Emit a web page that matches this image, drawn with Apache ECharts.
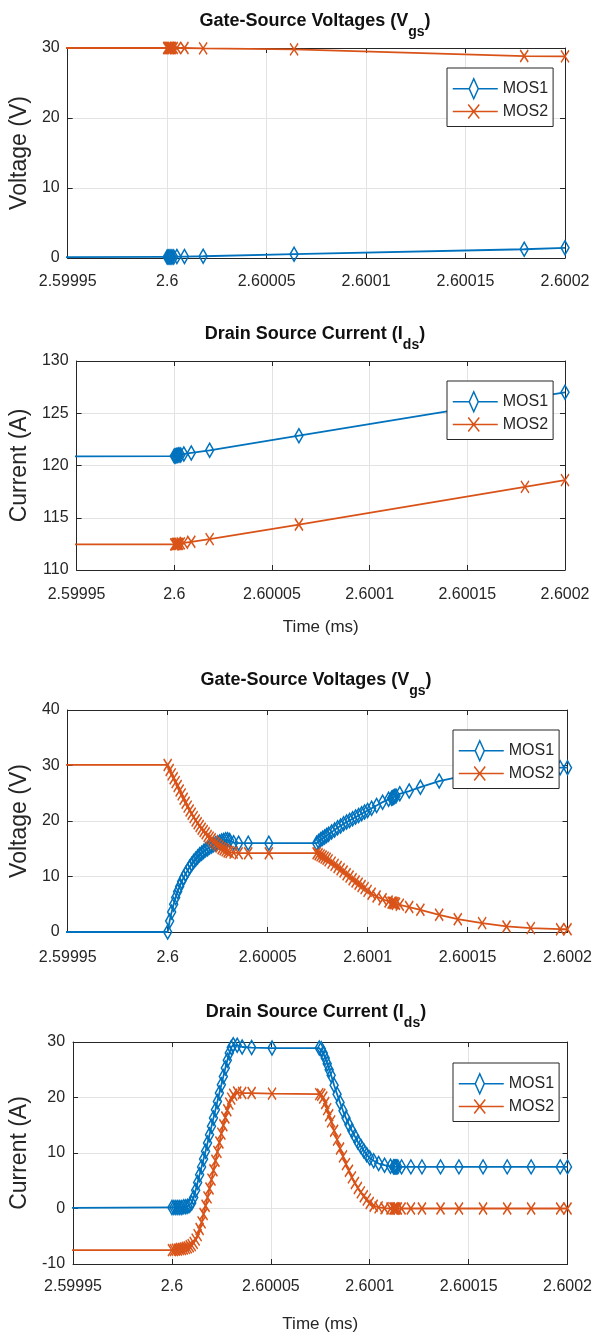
<!DOCTYPE html>
<html>
<head>
<meta charset="utf-8">
<script src="https://cdn.jsdelivr.net/npm/echarts@6/dist/echarts.min.js"></script>
<style>
  html, body { margin: 0; padding: 0; background: #fff; }
  #chart { width: 595px; height: 1334px; }
</style>
</head>
<body>
<div id="chart"></div>
<script>
// Switching transient of two MOSFETs. Sample times are given in ns after t = 2.6 ms.
const T0_MS = 2.6;

// Case A: small-signal step (upper two panels)
const timeA_ns   = [-100, 0, 0.5, 1, 1.5, 2, 2.5, 3.3, 4.9, 8.7, 18.1, 63.8, 179.5, 200];
const vgsA_mos1  = [0.1, 0.15, 0.15, 0.15, 0.15, 0.15, 0.15, 0.15, 0.2, 0.2, 0.25, 0.55, 1.25, 1.45];
const vgsA_mos2  = [30, 30, 30, 30, 30, 30, 30, 30, 30, 30, 29.95, 29.8, 28.85, 28.8];
const idsA_mos1  = [120.85, 120.9, 120.9, 120.95, 120.95, 121.0, 121.0, 121.0, 121.1, 121.2, 121.45, 122.85, 126.4, 127.0];
const idsA_mos2  = [112.45, 112.45, 112.45, 112.5, 112.5, 112.5, 112.5, 112.55, 112.6, 112.7, 112.95, 114.35, 117.95, 118.6];

// Case B: full commutation (lower two panels)
const timeB_ns = [-100,
  0, 1, 2, 3, 4, 5, 6, 7, 8, 9, 10, 11, 12, 13, 14, 15, 16, 17, 18, 19,
  20, 21, 22, 23, 24, 25, 26, 27, 28, 29, 30, 31,
  33, 35.5, 40.3, 50.6, 74.5,
  75.5, 76.5, 77.5, 78.5, 79.5, 80.5,
  82, 83.5, 85, 86.5, 88, 89.5, 91, 92.5, 94, 95.5, 97, 98.5, 100,
  102, 104.5, 107.5, 110.5,
  112, 112.5, 113, 113.5,
  114.2, 116.1, 120.8, 126.4, 135.8, 145.1, 157.3, 169.5, 181.6, 196.3, 200];
const vgsB_mos1 = [0,
  0, 2.0, 3.6, 5.0, 6.2, 7.3, 8.2, 9.1, 9.8, 10.5, 11.1, 11.7, 12.2, 12.7, 13.1, 13.5, 13.9, 14.2, 14.5, 14.8,
  15.0, 15.3, 15.5, 15.7, 15.9, 16.1, 16.2, 16.4, 16.5, 16.6, 16.6, 16.5,
  16.1, 16.0, 16.0, 16.0, 16.0,
  16.3, 16.6, 16.9, 17.1, 17.4, 17.6,
  18.0, 18.4, 18.8, 19.1, 19.5, 19.8, 20.1, 20.4, 20.7, 21.0, 21.3, 21.6, 21.9,
  22.3, 22.8, 23.4, 23.9,
  24.1, 24.2, 24.3, 24.4,
  24.5, 24.9, 25.4, 26.1, 27.2, 27.9, 28.6, 29.0, 29.3, 29.6, 29.6];
const vgsB_mos2 = [30.1,
  30.1, 29.2, 28.4, 27.7, 27.0, 26.3, 25.5, 24.8, 24.0, 23.3, 22.6, 21.9, 21.3, 20.7, 20.1, 19.6, 19.1, 18.6, 18.2, 17.8,
  17.3, 17.0, 16.7, 16.3, 16.0, 15.7, 15.4, 15.1, 14.9, 14.7, 14.5, 14.4,
  14.3, 14.2, 14.2, 14.2, 14.2,
  14.0, 13.8, 13.6, 13.4, 13.2, 12.9,
  12.5, 12.1, 11.7, 11.3, 10.9, 10.4, 10.0, 9.5, 9.1, 8.7, 8.3, 7.9, 7.4,
  6.9, 6.4, 5.9, 5.5,
  5.3, 5.3, 5.2, 5.2,
  5.1, 4.9, 4.5, 4.0, 3.1, 2.3, 1.6, 1.0, 0.7, 0.5, 0.5];
const idsB_mos1 = [0,
  0.2, 0.2, 0.2, 0.2, 0.2, 0.2, 0.3, 0.3, 0.4, 0.6, 1.0, 2.0, 3.3, 4.7, 6.1, 7.5, 8.9, 10.3, 11.8, 13.3,
  14.8, 16.3, 17.8, 19.3, 20.8, 22.3, 23.8, 25.3, 26.7, 28.0, 29.0, 29.5,
  29.4, 29.1, 29.0, 28.9, 28.9,
  28.8, 28.0, 27.1, 26.1, 25.0, 24.0,
  22.2, 20.6, 19.1, 17.6, 16.3, 15.1, 14.0, 13.0, 12.0, 11.2, 10.4, 9.7, 9.1,
  8.6, 8.1, 7.8, 7.6,
  7.5, 7.5, 7.5, 7.5,
  7.5, 7.5, 7.5, 7.5, 7.5, 7.5, 7.5, 7.5, 7.5, 7.5, 7.5];
const idsB_mos2 = [-7.5,
  -7.5, -7.5, -7.4, -7.4, -7.3, -7.3, -7.2, -7.1, -7.0, -6.8, -6.6, -6.2, -5.6, -4.8, -3.7, -2.5, -1.0, 0.5, 2.0, 3.6,
  5.2, 6.9, 8.6, 10.2, 11.9, 13.5, 15.0, 16.4, 17.7, 18.9, 19.8, 20.5,
  20.9, 20.8, 20.8, 20.7, 20.6,
  20.5, 20.0, 19.0, 17.9, 16.8, 15.7,
  14.0, 12.4, 10.8, 9.4, 8.0, 6.8, 5.6, 4.6, 3.7, 2.9, 2.2, 1.6, 1.0,
  0.5, 0.2, 0.05, 0,
  0, 0, 0, 0,
  0, 0, 0, 0, 0, 0, 0, 0, 0, 0, 0];

// Axis ticks
const xTicks     = [2.59995, 2.6, 2.60005, 2.6001, 2.60015, 2.6002];
const yTicksVgsA = [0, 10, 20, 30];
const yTicksIdsA = [110, 115, 120, 125, 130];
const yTicksVgsB = [0, 10, 20, 30, 40];
const yTicksIdsB = [-10, 0, 10, 20, 30];

const seriesNames = ['MOS1', 'MOS2'];
const titleVgs = ['Gate-Source Voltages (V', 'gs', ')'];
const titleIds = ['Drain Source Current (I', 'ds', ')'];
const yNameVgs = 'Voltage (V)';
const yNameIds = 'Current (A)';
const xName = 'Time (ms)';

// ---- styling ----
const SANS = '"Liberation Sans", Arial, Helvetica, sans-serif';
const INK = '#262626';
const GRID_LINE = '#e3e3e3';
const COLORS = ['#0072BD', '#D95319'];
const SYMBOLS = ['diamond', 'path://M0,0L10,10M10,0L0,10'];
const SYMBOL_SIZES = [[8, 14], [8, 12]];
// legend glyphs: line with the series marker drawn on it
const LEGEND_ICONS = [
  'path://M0,11H16.5M16.5,11L21,1L25.5,11L21,21ZM25.5,11H45',
  'path://M0,11H45M15.5,4L26.5,18M26.5,4L15.5,18'
];

const panels = [
  { grid: { left: 64, top: 48, width: 501, height: 210 }, title: titleVgs, titleX: 315, titleY: 3,
    yName: yNameVgs, yNameGap: 17, yTicks: yTicksVgsA, showX: false, xLabelMargin: 16,
    legend: { left: 447, top: 68 }, time: timeA_ns, values: [vgsA_mos1, vgsA_mos2] },
  { grid: { left: 64, top: 361, width: 501, height: 209 }, title: titleIds, titleX: 315, titleY: 316,
    yName: yNameIds, yNameGap: 24, yTicks: yTicksIdsA, showX: true, xNameGap: 49, xLabelMargin: 17,
    legend: { left: 447, top: 381 }, time: timeA_ns, values: [idsA_mos1, idsA_mos2] },
  { grid: { left: 62, top: 710, width: 509, height: 222 }, title: titleVgs, titleX: 316, titleY: 662,
    yName: yNameVgs, yNameGap: 14, yTicks: yTicksVgsB, showX: false, xLabelMargin: 18,
    legend: { left: 453, top: 730 }, time: timeB_ns, values: [vgsB_mos1, vgsB_mos2] },
  { grid: { left: 62, top: 1042, width: 509, height: 222 }, title: titleIds, titleX: 316, titleY: 994,
    yName: yNameIds, yNameGap: 21, yTicks: yTicksIdsB, showX: true, xNameGap: 52, xLabelMargin: 15,
    legend: { left: 453, top: 1063 }, time: timeB_ns, values: [idsB_mos1, idsB_mos2] }
];

const xMin = xTicks[0];
const xMax = xTicks[xTicks.length - 1];
const xStep = +(xTicks[1] - xTicks[0]).toFixed(8);
const fmtX = v => String(+v.toFixed(5));

function toPoints(timeNs, vals) {
  return timeNs.map((t, i) => [T0_MS + t * 1e-6, vals[i]]);
}

function axisBase(extra) {
  return Object.assign({
    type: 'value',
    axisLine: { show: true, onZero: false, lineStyle: { color: INK, width: 1 } },
    axisTick: { show: true, inside: true, length: 5, lineStyle: { color: INK, width: 1 } },
    splitLine: { show: false },
    axisLabel: { show: false }
  }, extra);
}

const option = {
  animation: false,
  backgroundColor: '#fff',
  grid: [], xAxis: [], yAxis: [], series: [], legend: [], graphic: []
};

panels.forEach((p, i) => {
  option.grid.push(Object.assign({ containLabel: false }, p.grid));

  const yMin = p.yTicks[0];
  const yMax = p.yTicks[p.yTicks.length - 1];
  const yStep = p.yTicks[1] - p.yTicks[0];

  // bottom (labelled) and top (ticks only) x axes
  option.xAxis.push(axisBase({
    gridIndex: i, position: 'bottom', min: xMin, max: xMax, interval: xStep,
    axisLabel: { show: true, fontFamily: SANS, fontSize: 16, color: INK, margin: p.xLabelMargin,
                 formatter: fmtX, showMinLabel: true, showMaxLabel: true },
    splitLine: { show: true, lineStyle: { color: GRID_LINE, width: 1 } },
    name: p.showX ? xName : '', nameLocation: 'middle', nameGap: p.xNameGap || 40,
    nameTextStyle: { fontFamily: SANS, fontSize: 17, color: INK }
  }));
  option.xAxis.push(axisBase({
    gridIndex: i, position: 'top', min: xMin, max: xMax, interval: xStep
  }));

  // left (labelled) and right (ticks only) y axes
  option.yAxis.push(axisBase({
    gridIndex: i, position: 'left', min: yMin, max: yMax, interval: yStep,
    axisLabel: { show: true, fontFamily: SANS, fontSize: 16, color: INK, margin: 8 },
    splitLine: { show: true, lineStyle: { color: GRID_LINE, width: 1 } },
    name: p.yName, nameLocation: 'middle', nameGap: p.yNameGap,
    nameTextStyle: { fontFamily: SANS, fontSize: 23, color: INK }
  }));
  option.yAxis.push(axisBase({
    gridIndex: i, position: 'right', min: yMin, max: yMax, interval: yStep
  }));

  seriesNames.forEach((name, k) => {
    option.series.push({
      type: 'line', name,
      xAxisIndex: 2 * i, yAxisIndex: 2 * i,
      data: toPoints(p.time, p.values[k]),
      clip: true,
      symbol: SYMBOLS[k], symbolSize: SYMBOL_SIZES[k], showSymbol: true, showAllSymbol: true,
      lineStyle: { color: COLORS[k], width: 1.8 },
      itemStyle: { color: 'rgba(255,255,255,0)', borderColor: COLORS[k], borderWidth: 1.6 },
      emphasis: { disabled: true },
      z: 3 + k
    });
  });

  option.legend.push({
    left: p.legend.left, top: p.legend.top, orient: 'vertical',
    data: seriesNames.map((n, k) => ({ name: n, icon: LEGEND_ICONS[k] })),
    itemWidth: 45, itemHeight: 22, itemGap: 4,
    padding: [10, 5, 7, 5],
    backgroundColor: '#fff', borderColor: INK, borderWidth: 1, borderRadius: 0,
    textStyle: { fontFamily: SANS, fontSize: 16, color: INK },
    itemStyle: { borderWidth: 1.5 },
    selectedMode: false, z: 10
  });

  option.graphic.push({
    type: 'text', x: p.titleX, y: p.titleY, z: 20,
    style: {
      text: '{m|' + p.title[0] + '}{s|' + p.title[1] + '}{m|' + p.title[2] + '}',
      align: 'center', verticalAlign: 'top',
      rich: {
        m: { fontFamily: SANS, fontWeight: 'bold', fontSize: 18, lineHeight: 36, verticalAlign: 'middle', fill: '#111' },
        s: { fontFamily: SANS, fontWeight: 'bold', fontSize: 14, lineHeight: 14, verticalAlign: 'bottom', fill: '#111' }
      }
    }
  });
});

const chart = echarts.init(document.getElementById('chart'), null, { renderer: 'canvas' });
chart.setOption(option);
</script>
</body>
</html>
